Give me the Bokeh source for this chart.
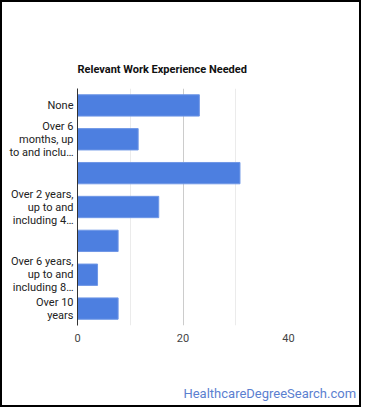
from bokeh.plotting import figure
from bokeh.models import FixedTicker, LinearAxis, ColumnDataSource, Range1d
from bokeh.embed import file_html
from bokeh.resources import INLINE

# ---- data ----
categories = [
    "None",
    "Over 6 months, up to and including 1 year",
    "Over 1 year, up to and including 2 years",
    "Over 2 years, up to and including 4 years",
    "Over 4 years, up to and including 6 years",
    "Over 6 years, up to and including 8 years",
    "Over 10 years",
]
values = [23.1, 11.5, 30.8, 15.4, 7.7, 3.8, 7.7]
tick_labels = [
    "None",
    "Over 6\nmonths, up\nto and inclu\u2026",
    "",
    "Over 2 years,\nup to and\nincluding 4\u2026",
    "",
    "Over 6 years,\nup to and\nincluding 8\u2026",
    "Over 10\nyears",
]
x_ticks = [0, 20, 40]
x_minor = [10, 30]
title_text = "Relevant Work Experience Needed"
watermark = "HealthcareDegreeSearch.com"
watermark_at = 36.45  # x position (data units) where the source credit is centred

W, H = 361, 407
n = len(categories)
ypos = list(range(n))
source = ColumnDataSource(data=dict(cat=categories, val=values, y=ypos))

p = figure(
    width=W, height=H,
    y_range=Range1d(n - 0.5, -0.5),
    x_range=Range1d(0, 40),
    output_backend="svg", toolbar_location=None,
    min_border_left=75, min_border_right=75, min_border_top=86, min_border_bottom=84,
)
p.hbar(y="y", right="val", left=0, height=0.63, source=source,
       fill_color="#4d7fe0", line_color="#6f97e6", line_width=1)

p.title.text = title_text
p.title.align = "left"
p.title.text_font = "Roboto"
p.title.text_font_size = "11px"
p.title.text_font_style = "bold"
p.title.text_color = "#111111"
p.title.standoff = 26

p.outline_line_color = None
p.background_fill_color = "white"
p.border_fill_color = "white"
p.styles = {"border": "2px solid black"}

# x axis
p.xaxis.ticker = FixedTicker(ticks=x_ticks, minor_ticks=x_minor)
p.xaxis.axis_line_color = None
p.xaxis.major_tick_line_color = None
p.xaxis.minor_tick_line_color = None
p.xaxis.major_tick_out = 0
p.xaxis.minor_tick_out = 0
p.xaxis.major_label_text_font = "Roboto"
p.xaxis.major_label_text_font_size = "11px"
p.xaxis.major_label_text_color = "#444444"
p.xaxis.major_label_standoff = 8
p.xgrid.grid_line_color = "#cccccc"
p.xgrid.minor_grid_line_color = "#ebebeb"
p.ygrid.grid_line_color = None

# y axis
p.yaxis.ticker = FixedTicker(ticks=ypos, minor_ticks=[])
p.yaxis.major_label_overrides = {i: t for i, t in zip(ypos, tick_labels)}
p.yaxis.axis_line_color = "#333333"
p.yaxis.axis_line_width = 1
p.yaxis.major_tick_line_color = None
p.yaxis.minor_tick_line_color = None
p.yaxis.major_tick_out = 0
p.yaxis.minor_tick_out = 0
p.yaxis.major_label_text_font = "Roboto"
p.yaxis.major_label_text_font_size = "11px"
p.yaxis.major_label_text_color = "#222222"
p.yaxis.major_label_text_line_height = 1.0
p.yaxis.major_label_standoff = 4

# source credit: a second, line-less axis below the first
wm_axis = LinearAxis(ticker=FixedTicker(ticks=[watermark_at], minor_ticks=[]),
                     major_label_overrides={watermark_at: watermark},
                     axis_line_color=None, major_tick_line_color=None,
                     minor_tick_line_color=None, major_tick_out=0, minor_tick_out=0,
                     major_label_standoff=41,
                     major_label_text_font="Roboto", major_label_text_font_size="13px",
                     major_label_text_color="#5b80d0")
p.add_layout(wm_axis, "below")

open("out.html", "w").write(file_html(p, INLINE))
